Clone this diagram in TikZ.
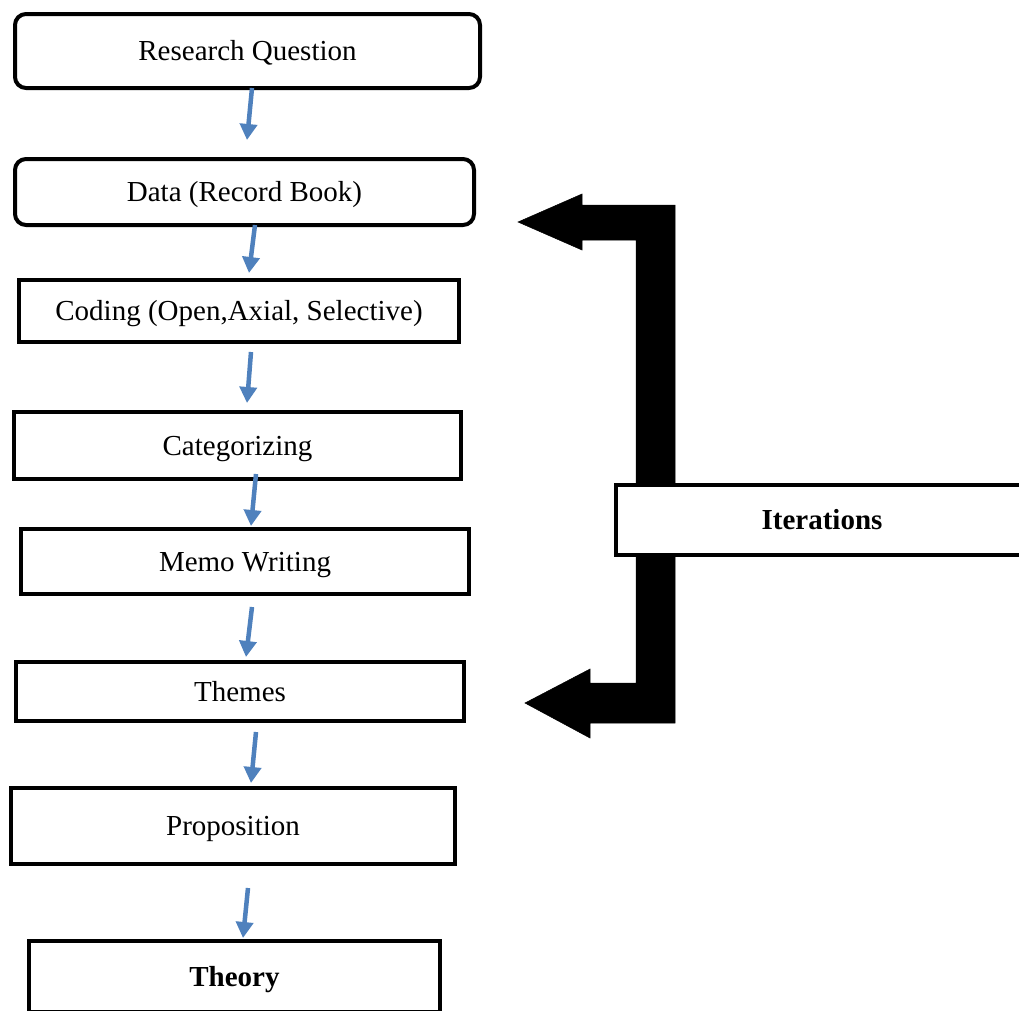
\documentclass[tikz,border=0pt]{standalone}
\usepackage{fontspec}
\setmainfont{Liberation Serif}
\usetikzlibrary{arrows.meta,calc}
\definecolor{flowblue}{RGB}{79,129,189}
\begin{document}
\begin{tikzpicture}[x=1pt,y=-1pt,
  box/.style={draw=black, line width=4pt, fill=white, inner sep=0pt, outer sep=0pt,
              text height=19pt, text depth=0pt,
              font=\fontsize{29}{34}\selectfont},
  rbox/.style={box, rounded corners=11pt},
  boldbox/.style={box, font=\fontsize{29}{34}\selectfont\bfseries},
  flow/.style={draw=flowblue, line width=4.5pt, -{Triangle[width=17pt,length=16pt]}},
  bigarrow/.style={fill=black, draw=black, line width=0.5pt, line join=miter}]
\useasboundingbox (0,0) rectangle (1019,1010);
\fill[white] (0,0) rectangle (1019,1010);

% flow boxes
\node[rbox, minimum width=465, minimum height=74] (rq) at (247.5,51) {Research Question};
\node[rbox, minimum width=459, minimum height=66] (data) at (244.5,192) {Data (Record Book)};
\node[box, minimum width=440, minimum height=62] (coding) at (239,311) {Coding (Open,Axial, Selective)};
\node[box, minimum width=447, minimum height=67] (cat) at (237.5,445.5) {Categorizing};
\node[box, minimum width=448, minimum height=65] (memo) at (245,561.5) {Memo Writing};
\node[box, minimum width=448, minimum height=59] (themes) at (240,691.5) {Themes};
\node[box, minimum width=444, minimum height=76] (prop) at (233,826) {Proposition};
\node[boldbox, minimum width=411, minimum height=71] (theory) at (234.5,976.5) {Theory};

% blue connectors
\draw[flow] ($(rq.south)+(4.5,0)$) -- ($(data.north)+(2.5,-19)$);
\draw[flow] ($(data.south)+(10.5,0)$) -- ($(coding.north)+(10,-7)$);
\draw[flow] ($(coding.south)+(12,10)$) -- ($(cat.north)+(9.5,-9)$);
\draw[flow] ($(cat.south)+(18.5,-5)$) -- ($(memo.north)+(6,-3)$);
\draw[flow] ($(memo.south)+(7,13)$) -- ($(themes.north)+(6,-5)$);
\draw[flow] ($(themes.south)+(16,11)$) -- ($(prop.north)+(18,-5)$);
\draw[flow] ($(prop.south)+(15,24)$) -- ($(theory.north)+(8.5,-3)$);

% iteration bracket arrow
\path[bigarrow] (518,222) -- (582,194) -- (582,205) -- (675,205) -- (675,723)
  -- (590,723) -- (590,738) -- (525,703) -- (590,669) -- (590,683)
  -- (636,683) -- (636,240) -- (582,240) -- (582,250) -- cycle;

\node[boldbox, minimum width=412, minimum height=70] (iter) at (822,520) {Iterations};
\end{tikzpicture}
\end{document}
